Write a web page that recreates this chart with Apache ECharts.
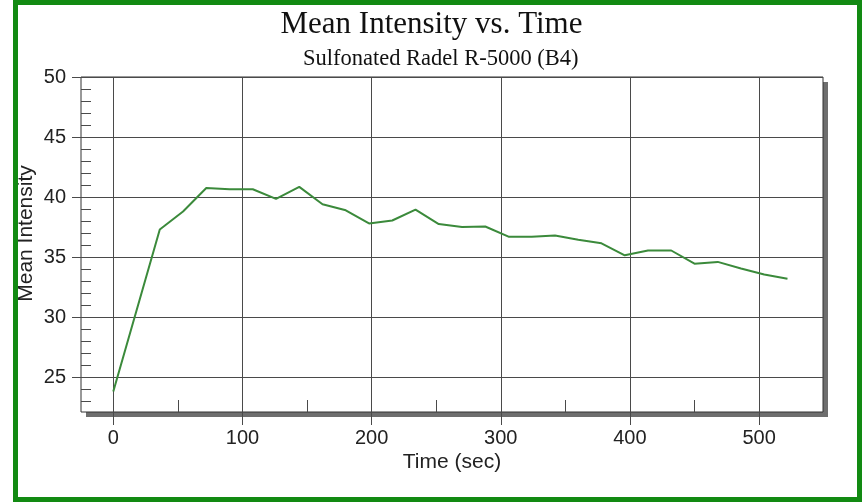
<!DOCTYPE html>
<html><head><meta charset="utf-8">
<script src="https://cdn.jsdelivr.net/npm/echarts@6/dist/echarts.min.js"></script>
<style>html,body{margin:0;padding:0;background:#fff}#c{width:863px;height:502px}</style>
</head><body><div id="c"></div>
<script>
const timeSec = [0, 36, 54, 72, 90, 108, 126, 144, 162, 180, 198, 216, 234, 252, 270, 288, 306, 324, 342, 360, 378, 396, 414, 432, 450, 468, 486, 504, 522];
const meanIntensity = [23.8, 37.3, 38.8, 40.75, 40.65, 40.65, 39.85, 40.85, 39.4, 38.9, 37.8, 38.05, 38.95, 37.75, 37.5, 37.55, 36.7, 36.7, 36.8, 36.45, 36.15, 35.15, 35.55, 35.55, 34.45, 34.6, 34.05, 33.55, 33.2];
const xMajorTicks = [0, 100, 200, 300, 400, 500];
const xMinorTicks = [50, 150, 250, 350, 450];
const yMajorTicks = [25, 30, 35, 40, 45, 50];
const yMinorTicks = [23, 24, 26, 27, 28, 29, 31, 32, 33, 34, 36, 37, 38, 39, 41, 42, 43, 44, 46, 47, 48, 49];
const titleText = 'Mean Intensity vs. Time';
const subtitleText = 'Sulfonated Radel R-5000 (B4)';
const xName = 'Time (sec)';
const yName = 'Mean Intensity';

const X_MIN = -25, X_MAX = 549.5, Y_MIN = 22.1, Y_MAX = 50;
const sans = 'Liberation Sans, Arial, sans-serif';
const serif = 'Liberation Serif, Times New Roman, serif';
const gridCol = '#4a4a4a';
const G = {left: 81, top: 77, width: 742, height: 335};

const chart = echarts.init(document.getElementById('c'), null, {renderer: 'canvas'});
chart.setOption({
  animation: false,
  backgroundColor: '#fff',
  title: [
    {text: titleText, left: 'center', top: 4, textStyle: {fontFamily: serif, fontSize: 31, fontWeight: 'normal', color: '#111'}},
    {text: subtitleText, left: 298, top: 43, textStyle: {fontFamily: serif, fontSize: 22.5, fontWeight: 'normal', color: '#111'}}
  ],
  grid: {left: G.left, top: G.top, width: G.width, height: G.height, show: true, backgroundColor: '#fff',
    borderColor: '#333', borderWidth: 1},
  xAxis: [
    {type: 'value', min: X_MIN, max: X_MAX, position: 'bottom',
      axisLine: {show: false, onZero: false},
      axisTick: {show: true, inside: false, length: 13, customValues: xMajorTicks, lineStyle: {color: gridCol}},
      axisLabel: {customValues: xMajorTicks, fontFamily: sans, fontSize: 20, color: '#222', margin: 16},
      splitLine: {show: true, lineStyle: {color: gridCol, width: 1}},
      name: xName, nameLocation: 'middle', nameGap: 40, nameMoveOverlap: false,
      nameTextStyle: {fontFamily: sans, fontSize: 21, color: '#222'}},
    {type: 'value', min: X_MIN, max: X_MAX, position: 'bottom',
      axisLine: {show: false, onZero: false},
      axisTick: {show: true, inside: true, length: 12, customValues: xMinorTicks, lineStyle: {color: gridCol}},
      axisLabel: {show: false},
      splitLine: {show: false}}
  ],
  yAxis: [
    {type: 'value', min: Y_MIN, max: Y_MAX, position: 'left',
      axisLine: {show: false, onZero: false},
      axisTick: {show: true, inside: false, length: 9, customValues: yMajorTicks, lineStyle: {color: gridCol}},
      axisLabel: {customValues: yMajorTicks, fontFamily: sans, fontSize: 20, color: '#222', margin: 15},
      splitLine: {show: true, lineStyle: {color: gridCol, width: 1}},
      name: yName, nameLocation: 'middle', nameGap: 44, nameMoveOverlap: false,
      nameTextStyle: {fontFamily: sans, fontSize: 21, color: '#222', padding: [0, 0, 0, 22]}},
    {type: 'value', min: Y_MIN, max: Y_MAX, position: 'left',
      axisLine: {show: false, onZero: false},
      axisTick: {show: true, inside: true, length: 10, customValues: yMinorTicks, lineStyle: {color: gridCol}},
      axisLabel: {show: false},
      splitLine: {show: false}}
  ],
  series: [{
    type: 'line', xAxisIndex: 0, yAxisIndex: 0,
    data: timeSec.map((t, i) => [t, meanIntensity[i]]),
    showSymbol: false, symbol: 'none',
    lineStyle: {color: '#3b8a3b', width: 2}, z: 5
  }],
  graphic: [
    {type: 'rect', silent: true, z: -10,
      shape: {x: G.left + 5, y: G.top + 5, width: G.width, height: G.height},
      style: {fill: '#6e6e6e'}},
    {type: 'rect', silent: true, z: 100,
      shape: {x: 15.5, y: 2.5, width: 844, height: 497},
      style: {fill: 'none', stroke: '#128a12', lineWidth: 5}}
  ]
});
</script></body></html>
